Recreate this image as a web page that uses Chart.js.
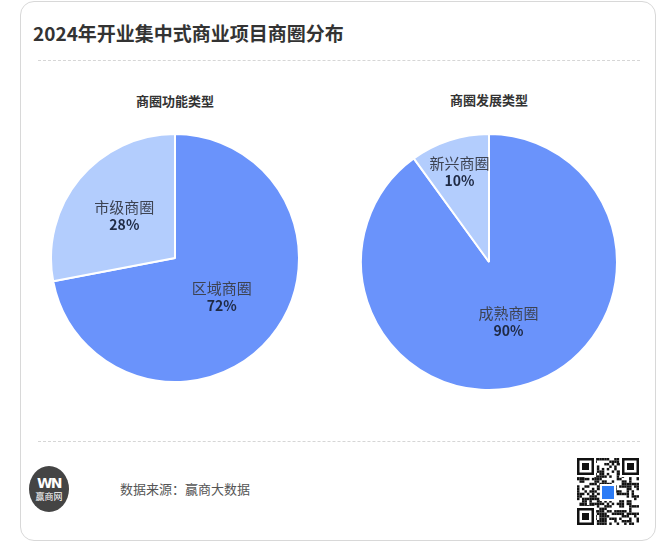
<!DOCTYPE html>
<html lang="zh">
<head>
  <meta charset="UTF-8">
  <title>2024年开业集中式商业项目商圈分布</title>
  <script src="https://cdn.jsdelivr.net/npm/chart.js@4.4.1/dist/chart.umd.min.js"></script>
  <style>
    * { font-family: "Noto Sans CJK SC", "Noto Sans", sans-serif; }
    body { margin: 0; background: #fff; width: 660px; height: 544px; position: relative; overflow: hidden; }
    .card { position: absolute; left: 20px; top: 1px; width: 634px; height: 538px; border: 1px solid #d8d8d8; border-radius: 14px; }
    .title { position: absolute; left: 33px; top: 19px; font-size: 19px; font-weight: bold; color: #333; }
    .sep { position: absolute; left: 38px; width: 602px; border-top: 1px dashed #d6d6d6; }
    .sub { position: absolute; width: 200px; text-align: center; font-size: 13px; font-weight: bold; color: #333; }
    .pie { position: absolute; }
    .logo { position: absolute; left: 29px; top: 466px; width: 40px; height: 46px; border-radius: 50%; background: #444; color: #fff; text-align: center; }
    .logo b { display: block; font-size: 14px; line-height: 14px; margin-top: 10px; letter-spacing: -1.5px; font-family: "DejaVu Sans"; }
    .logo span { display: block; font-size: 9px; line-height: 10px; margin-top: 2px; }
    .source { position: absolute; left: 120px; top: 479px; font-size: 13px; color: #555; }
    #qr { position: absolute; left: 577px; top: 458px; }
  </style>
</head>
<body>
  <div class="card"></div>
  <div class="title">2024年开业集中式商业项目商圈分布</div>
  <div class="sep" style="top:60px"></div>

  <div class="sub" id="sub0" style="left:75px; top:91px"></div>
  <div class="sub" id="sub1" style="left:389px; top:90px"></div>
  <canvas class="pie" id="pie-func" width="250" height="250" style="left:50px; top:133px"></canvas>
  <canvas class="pie" id="pie-dev" width="258" height="258" style="left:360px; top:133px"></canvas>

  <div class="sep" style="top:441px"></div>
  <div class="logo"><b>WN</b><span>赢商网</span></div>
  <div class="source">数据来源：赢商大数据</div>
  <canvas id="qr" width="62" height="67"></canvas>

  <script>
    const groupTitles = ["商圈功能类型", "商圈发展类型"]
    const funcLabels = ["区域商圈", "市级商圈"]
    const funcValues = [72, 28]
    const devLabels = ["成熟商圈", "新兴商圈"]
    const devValues = [90, 10]

    document.getElementById("sub0").textContent = groupTitles[0]
    document.getElementById("sub1").textContent = groupTitles[1]

    const colors = ["#6a93fb", "#b3cdfd"]

    // writes name + percent inside each slice
    const sliceLabels = {
      id: "sliceLabels",
      afterDatasetsDraw(chart, args, opts) {
        const ctx = chart.ctx
        const meta = chart.getDatasetMeta(0)
        const values = chart.data.datasets[0].data
        const total = values.reduce((a, b) => a + b, 0)
        meta.data.forEach((arc, i) => {
          const mid = (arc.startAngle + arc.endAngle) / 2
          const r = arc.outerRadius * opts.radius[i]
          const x = arc.x + Math.cos(mid) * r
          const y = arc.y + Math.sin(mid) * r
          ctx.save()
          ctx.textAlign = "center"
          ctx.textBaseline = "middle"
          ctx.fillStyle = "#3d4352"
          ctx.font = '15px "Noto Sans CJK SC"'
          ctx.fillText(chart.data.labels[i], x, y - 8.5)
          ctx.fillStyle = "#1f2a44"
          ctx.font = 'bold 14px "Noto Sans CJK SC"'
          ctx.fillText(Math.round(values[i] / total * 100) + "%", x, y + 9)
          ctx.restore()
        })
      }
    }

    function makePie(id, labels, values, radius) {
      return new Chart(document.getElementById(id), {
        type: "pie",
        data: {
          labels: labels,
          datasets: [{
            data: values,
            backgroundColor: colors,
            borderColor: "#fff",
            borderWidth: 2
          }]
        },
        options: {
          responsive: false,
          animation: false,
          events: [],
          layout: { padding: 0 },
          plugins: {
            legend: { display: false },
            tooltip: { enabled: false },
            sliceLabels: { radius: radius }
          }
        },
        plugins: [sliceLabels]
      })
    }

    makePie("pie-func", funcLabels, funcValues, [0.49, 0.53])
    makePie("pie-dev", devLabels, devValues, [0.49, 0.745])

    // decorative qr-ish block
    const q = document.getElementById("qr").getContext("2d")
    const cell = 62 / 25
    let seed = 7
    function next() { seed = (seed * 16807) % 2147483647; return seed / 2147483647 }
    q.fillStyle = "#111"
    for (let r = 0; r < 27; r++) {
      for (let c = 0; c < 25; c++) {
        if (next() > 0.5) q.fillRect(c * cell, r * cell, cell, cell)
      }
    }
    function finder(x, y) {
      q.fillStyle = "#fff"; q.fillRect(x - 2, y - 2, 21, 21)
      q.fillStyle = "#111"; q.fillRect(x, y, 17, 17)
      q.fillStyle = "#fff"; q.fillRect(x + 2.5, y + 2.5, 12, 12)
      q.fillStyle = "#111"; q.fillRect(x + 5, y + 5, 7, 7)
    }
    finder(0, 0); finder(45, 0); finder(0, 50)
    q.fillStyle = "#fff"; q.fillRect(23, 26, 16, 17)
    q.fillStyle = "#2d7cf6"; q.fillRect(25, 28, 12, 13)
  </script>
</body>
</html>
